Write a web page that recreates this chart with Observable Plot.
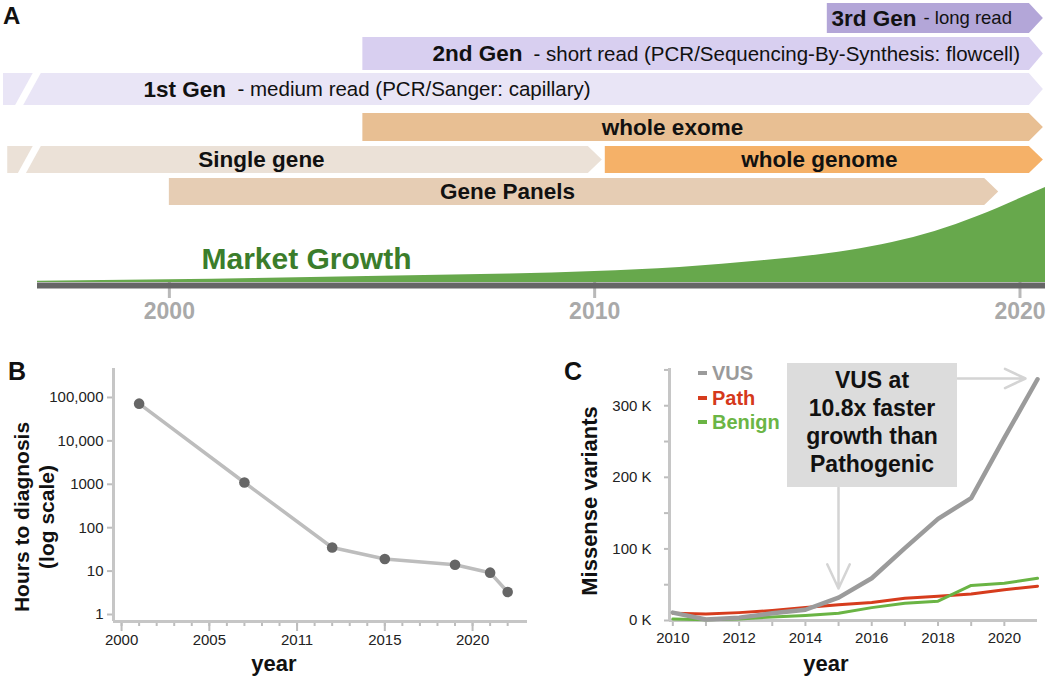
<!DOCTYPE html>
<html><head><meta charset="utf-8">
<script src="https://cdn.jsdelivr.net/npm/d3@7"></script>
<script src="https://cdn.jsdelivr.net/npm/@observablehq/plot@0.6"></script>
<style>
body{margin:0;background:#fff;font-family:"Liberation Sans",Arial,Helvetica,sans-serif;}
#fig{position:relative;width:1050px;height:680px;overflow:hidden;background:#fff;}
.panel{position:absolute;font-weight:bold;font-size:25px;color:#111;line-height:1;}
.rot{position:absolute;transform:translate(-50%,-50%) rotate(-90deg);white-space:nowrap;text-align:center;font-weight:bold;color:#111;}
.xt{position:absolute;transform:translateX(-50%);font-weight:bold;font-size:22px;line-height:1;color:#111;white-space:nowrap;}
.leg{position:absolute;font-weight:bold;font-size:20px;line-height:1;white-space:nowrap;}
.dash{position:absolute;width:9px;height:4px;}
#box{position:absolute;left:787px;top:363px;width:170px;height:124px;box-sizing:border-box;padding-top:3px;background:#dcdcdc;text-align:center;font-weight:bold;font-size:23px;line-height:28px;color:#111;}
</style></head>
<body><div id="fig"></div>
<script>
// ================= DATA =================
// Panel A : technology / test eras (years)
const eraNames   = ["3rd Gen", "2nd Gen", "1st Gen", "whole exome", "Single gene", "whole genome", "Gene Panels"];
const eraDetails = ["- long read", "- short read (PCR/Sequencing-By-Synthesis: flowcell)", "- medium read (PCR/Sanger: capillary)", "", "", "", ""];
const eraStart   = [2015.47, 2004.55, 1996.1, 2004.55, 1996.2, 2010.25, 2000.0];
const eraEnd     = [2020.55, 2020.55, 2020.55, 2020.55, 2010.18, 2020.55, 2019.5];
const eraLane    = ["tech3", "tech2", "tech1", "exome", "single", "single", "panel"];
const eraBroken  = [false, false, true, false, true, false, false];
// Panel A : market growth (relative index)
const marketYears = [1996.9, 2000, 2002, 2004, 2006, 2008, 2010, 2012, 2014, 2016, 2017, 2018, 2019, 2020, 2020.6];
const marketIndex = [1.3, 2.7, 4, 5.5, 7, 8.5, 11, 15, 22, 32, 40, 51, 66, 84, 95];
const timelineTicks = [2000, 2010, 2020];

// Panel B : hours to diagnosis
const diagYears = [2001, 2007, 2012, 2015, 2019, 2021, 2022];
const diagHours = [72000, 1100, 35, 19, 14, 9.2, 3.3];
const diagYTicks = [1, 10, 100, 1000, 10000, 100000];
const diagYLabels = ["1", "10", "100", "1000", "10,000", "100,000"];
const diagXTicks = [2000, 2005, 2010, 2015, 2020];
const diagXLabels = ["2000", "2005", "2011", "2015", "2020"];
const diagXMinor = [2000,2001,2002,2003,2004,2005,2006,2007,2008,2009,2010,2011,2012,2013,2014,2015,2016,2017,2018,2019,2020,2021,2022];

// Panel C : missense variants (thousands)
const cYears  = [2010, 2011, 2012, 2013, 2014, 2015, 2016, 2017, 2018, 2019, 2020, 2021];
const cVUS    = [11, 1.5, 4, 10, 15, 32, 59, 101, 142, 171, 255, 337];
const cPath   = [10, 9, 11, 14, 18, 22, 25, 31, 34, 37, 43, 48];
const cBenign = [2, 1, 2, 5, 7, 10, 18, 24, 27, 49, 52, 59];
const cSeries = ["VUS", "Path", "Benign"];
const cYTicks = [0, 50, 100, 150, 200, 250, 300, 350];
const cXTicks = [2010, 2011, 2012, 2013, 2014, 2015, 2016, 2017, 2018, 2019, 2020];
const cNote = ["VUS at", "10.8x faster", "growth than", "Pathogenic"];

// ================= LAYOUT / STYLE =================
const FONT = '"Liberation Sans", Arial, Helvetica, sans-serif';
const fig = document.getElementById("fig");
const baseStyle = {fontFamily: FONT, background: "transparent", overflow: "visible"};
function place(el, left, top) { el.style.position = "absolute"; el.style.left = left + "px"; el.style.top = top + "px"; fig.appendChild(el); }
function div(cls, html, css) { const d = document.createElement("div"); d.className = cls; d.innerHTML = html; Object.assign(d.style, css || {}); fig.appendChild(d); return d; }

// ---------- Panel A ----------
const A_DOMAIN = [1996.9, 2020.6], A_L = 37, A_R = 1045;
const pxA = px => A_DOMAIN[0] + (px - A_L) * (A_DOMAIN[1] - A_DOMAIN[0]) / (A_R - A_L);
const HEAD = pxA(A_L + 14) - pxA(A_L);
const laneBand = {tech3: [3, 33], tech2: [37, 70], tech1: [73, 105], exome: [113, 141], single: [146, 173], panel: [178, 205]};
const eraColor = {"3rd Gen": "#b3a6d8", "2nd Gen": "#d8cff0", "1st Gen": "#e9e5f6", "whole exome": "#e8bf93",
  "Single gene": "#ebe1d7", "whole genome": "#f5b168", "Gene Panels": "#e6cdb4"};
const labelPos = {"3rd Gen": {bold: 831, detail: 923, size: 18.5}, "2nd Gen": {bold: 432, detail: 533, size: 20.5},
  "1st Gen": {bold: 143, detail: 237, size: 20.5}, "whole exome": {center: 672}, "Single gene": {center: 261},
  "whole genome": {center: 819}, "Gene Panels": {center: 507}};

const eras = eraNames.map((name, i) => ({name, detail: eraDetails[i], start: eraStart[i], end: eraEnd[i], lane: eraLane[i], broken: eraBroken[i]}));
const mid = e => (laneBand[e.lane][0] + laneBand[e.lane][1]) / 2;
const shapeOf = e => { const [t, b] = laneBand[e.lane]; const m = (t + b) / 2;
  return [{x: e.start, y1: t, y2: b}, {x: e.end - HEAD, y1: t, y2: b}, {x: e.end, y1: m, y2: m}]; };
const breaks = eras.filter(e => e.broken).map(e => { const [t, b] = laneBand[e.lane];
  return {x1: pxA(36 + 0.55 * 3), y1: t - 3, x2: pxA(36 - 0.55 * (b - t + 3)), y2: b + 3}; });

const market = marketYears.map((year, i) => ({year, index: marketIndex[i]}));

// bottom part of A (market growth + time axis)
const plotA2 = Plot.plot({
  width: 1050, height: 150, marginLeft: A_L, marginRight: 1050 - A_R, marginTop: 7, marginBottom: 48,
  style: baseStyle,
  x: {domain: A_DOMAIN}, y: {domain: [0, 95], axis: null},
  marks: [
    Plot.areaY(market, {x: "year", y: "index", fill: "#67a84c", curve: "monotone-x"}),
    Plot.axisX({ticks: timelineTicks, tickFormat: d => String(d), tickSize: 16, tickPadding: 4,
      stroke: "#b9b9b9", strokeWidth: 3, color: "#a9a9a9", fontSize: 23, fontWeight: "bold", label: null}),
    Plot.ruleY([0], {stroke: "#666", strokeWidth: 6, dy: 3}),
    Plot.text(["Market Growth"], {x: () => pxA(306), y: () => 23, text: d => d, fontSize: 30, fontWeight: "bold", fill: "#3b7d2b"})
  ]
});
place(plotA2, 0, 180);

// top part of A (eras)
const plotA1 = Plot.plot({
  width: 1050, height: 210, marginLeft: A_L, marginRight: 1050 - A_R, marginTop: 0, marginBottom: 0,
  style: baseStyle,
  x: {domain: A_DOMAIN, axis: null}, y: {domain: [0, 210], range: [0, 210], axis: null},
  marks: [
    ...eras.map(e => Plot.area(shapeOf(e), {x1: "x", y1: "y1", y2: "y2", fill: eraColor[e.name]})),
    Plot.link(breaks, {x1: "x1", y1: "y1", x2: "x2", y2: "y2", stroke: "white", strokeWidth: 7}),
    Plot.text(eras.filter(e => labelPos[e.name].bold), {x: e => pxA(labelPos[e.name].bold), y: mid, text: "name",
      textAnchor: "start", fontWeight: "bold", fontSize: 22.5, fill: "#111"}),
    Plot.text(eras.filter(e => labelPos[e.name].size === 20.5), {x: e => pxA(labelPos[e.name].detail), y: mid, text: "detail",
      textAnchor: "start", fontSize: 20.5, fill: "#111"}),
    Plot.text(eras.filter(e => labelPos[e.name].size === 18.5), {x: e => pxA(labelPos[e.name].detail), y: mid, text: "detail",
      textAnchor: "start", fontSize: 18.5, fill: "#111"}),
    Plot.text(eras.filter(e => labelPos[e.name].center), {x: e => pxA(labelPos[e.name].center), y: mid, text: "name",
      textAnchor: "middle", fontWeight: "bold", fontSize: 22.5, fill: "#111"})
  ]
});
place(plotA1, 0, 0);

// ---------- Panel B ----------
const diag = diagYears.map((year, i) => ({year, hours: diagHours[i]}));
const bYLab = new Map(diagYTicks.map((v, i) => [v, diagYLabels[i]]));
const bXLab = new Map(diagXTicks.map((v, i) => [v, diagXLabels[i]]));
const B_X = [1999.54, 2023.13], B_Y = [0.69, 465000];
const plotB = Plot.plot({
  width: 560, height: 350, marginLeft: 113, marginRight: 33, marginTop: 38, marginBottom: 59,
  style: baseStyle,
  x: {domain: B_X}, y: {type: "log", domain: B_Y},
  marks: [
    Plot.axisY({ticks: diagYTicks, tickFormat: d => bYLab.get(d), tickSize: 6, tickPadding: 4,
      stroke: "#bdbdbd", strokeWidth: 2, color: "#222", fontSize: 15, label: null}),
    Plot.axisX({ticks: diagXMinor, tickFormat: () => "", tickSize: 5, stroke: "#bdbdbd", strokeWidth: 2, label: null}),
    Plot.axisX({ticks: diagXTicks, tickFormat: d => bXLab.get(d), tickSize: 10, tickPadding: 3,
      stroke: "#bdbdbd", strokeWidth: 2, color: "#222", fontSize: 15, label: null}),
    Plot.ruleX([B_X[0]], {stroke: "#c6c6c6", strokeWidth: 3}),
    Plot.ruleY([B_Y[0]], {stroke: "#c6c6c6", strokeWidth: 3}),
    Plot.line(diag, {x: "year", y: "hours", stroke: "#bdbdbd", strokeWidth: 3.5}),
    Plot.dot(diag, {x: "year", y: "hours", r: 5.3, fill: "#666", stroke: "none"})
  ]
});
place(plotB, 0, 330);

// ---------- Panel C ----------
const cColor = {VUS: "#9b9b9b", Path: "#d63c1d", Benign: "#6ab444"};
const cWidth = {VUS: 4.5, Path: 3, Benign: 3};
const cValues = {VUS: cVUS, Path: cPath, Benign: cBenign};
const C_X = [2009.9, 2021], C_Y = [0, 352];
const pxCx = px => C_X[0] + (px - 669) * (C_X[1] - C_X[0]) / (1037 - 669);
const pxCy = py => (620 - py) * (C_Y[1] - C_Y[0]) / (620 - 368);
const noteArrows = [
  {x1: pxCx(957), y1: pxCy(378), x2: pxCx(1025), y2: pxCy(378)},
  {x1: pxCx(838), y1: pxCy(487), x2: pxCx(838), y2: pxCy(588)}
];
const drawOrder = ["Path", "Benign", "VUS"];
const plotC = Plot.plot({
  width: 490, height: 350, marginLeft: 109, marginRight: 13, marginTop: 38, marginBottom: 60,
  style: baseStyle,
  x: {domain: C_X}, y: {domain: C_Y},
  marks: [
    Plot.axisY({ticks: cYTicks, tickFormat: d => d % 100 === 0 ? `${d} K` : "", tickSize: 5, tickPadding: 13,
      stroke: "#bdbdbd", strokeWidth: 2, color: "#222", fontSize: 15, label: null}),
    Plot.axisX({ticks: cXTicks, tickFormat: d => d % 2 === 0 ? String(d) : "", tickSize: 6, tickPadding: 6,
      stroke: "#bdbdbd", strokeWidth: 2, color: "#222", fontSize: 15, label: null}),
    Plot.ruleX([C_X[0]], {stroke: "#c6c6c6", strokeWidth: 3}),
    Plot.ruleY([C_Y[0]], {stroke: "#c6c6c6", strokeWidth: 3}),
    ...drawOrder.map(s => Plot.line(cYears.map((year, i) => ({year, v: cValues[s][i]})),
      {x: "year", y: "v", stroke: cColor[s], strokeWidth: cWidth[s]})),
    Plot.arrow(noteArrows, {x1: "x1", y1: "y1", x2: "x2", y2: "y2", stroke: "#d4d4d4", strokeWidth: 2.5, headLength: 16, headAngle: 50})
  ]
});
place(plotC, 560, 330);

// ---------- HTML text ----------
div("panel", "A", {left: "3px", top: "3.5px", fontSize: "24px"});
div("panel", "B", {left: "8px", top: "359px"});
div("panel", "C", {left: "564px", top: "359px"});
div("rot", "Hours to diagnosis<br>(log scale)", {left: "33.5px", top: "517px", fontSize: "21px", lineHeight: "25px"});
div("rot", "Missense variants", {left: "589px", top: "501px", fontSize: "22px", lineHeight: "25px"});
div("xt", "year", {left: "274px", top: "653px"});
div("xt", "year", {left: "826px", top: "653px"});
const legTop = {VUS: 363, Path: 388, Benign: 412};
cSeries.forEach(s => {
  div("dash", "", {left: "698px", top: (legTop[s] + 8) + "px", background: cColor[s]});
  div("leg", s, {left: "712px", top: legTop[s] + "px", color: s === "VUS" ? "#9a9a9a" : s === "Path" ? "#d5391b" : "#6bb545"});
});
const box = div("", cNote.join("<br>")); box.id = "box";
</script>
</body></html>
